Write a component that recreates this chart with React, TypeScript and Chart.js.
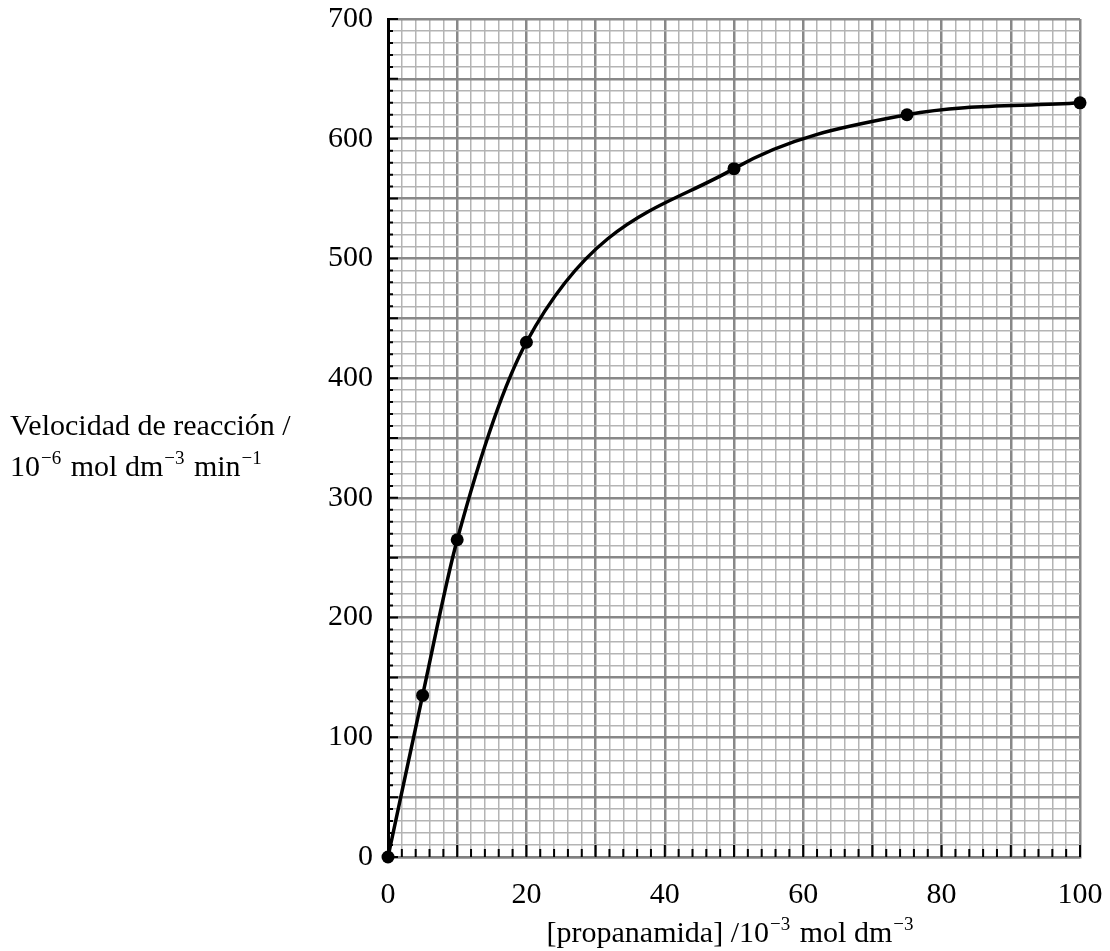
import { useEffect, useRef } from 'react';
import { Chart, registerables } from 'chart.js';

Chart.register(...registerables);

// Data
const concentration = [0, 5, 10, 20, 50, 75, 100];
const rate = [0, 135, 265, 430, 575, 620, 630];
const xTickLabels = [0, 20, 40, 60, 80, 100];
const yTickLabels = [0, 100, 200, 300, 400, 500, 600, 700];

type Part = { t: string; sup?: boolean };
const yTitleLine1: Part[] = [{ t: 'Velocidad de reacción /' }];
const yTitleLine2: Part[] = [
  { t: '10' }, { t: '−6', sup: true }, { t: ' mol dm' }, { t: '−3', sup: true }, { t: ' min' }, { t: '−1', sup: true },
];
const xTitle: Part[] = [
  { t: '[propanamida] /10' }, { t: '−3', sup: true }, { t: ' mol dm' }, { t: '−3', sup: true },
];

const FAMILY = '"Liberation Serif", "Times New Roman", serif';
const SIZE = 30;
const SUP = 19;

function measure(ctx: CanvasRenderingContext2D, parts: Part[]) {
  let w = 0;
  for (const p of parts) {
    ctx.font = `${p.sup ? SUP : SIZE}px ${FAMILY}`;
    w += ctx.measureText(p.t).width + (p.sup ? 3 : 0);
  }
  return w;
}

function drawRich(ctx: CanvasRenderingContext2D, parts: Part[], x: number, baseline: number, align: 'left' | 'center') {
  let cx = align === 'center' ? x - measure(ctx, parts) / 2 : x;
  ctx.textAlign = 'left';
  ctx.textBaseline = 'alphabetic';
  ctx.fillStyle = '#000';
  for (const p of parts) {
    ctx.font = `${p.sup ? SUP : SIZE}px ${FAMILY}`;
    if (p.sup) {
      ctx.fillText(p.t, cx + 1, baseline - 12);
      cx += ctx.measureText(p.t).width + 3;
    } else {
      ctx.fillText(p.t, cx, baseline);
      cx += ctx.measureText(p.t).width;
    }
  }
}

const zeroPad = (s: any) => {
  s.paddingTop = 0;
  s.paddingBottom = 0;
  s.paddingLeft = 0;
  s.paddingRight = 0;
};

const decorPlugin = {
  id: 'decor',
  beforeDatasetsDraw(chart: any) {
    const ctx: CanvasRenderingContext2D = chart.ctx;
    const xs = chart.scales.x;
    const ys = chart.scales.y;
    const { left, bottom } = chart.chartArea;
    ctx.save();
    ctx.strokeStyle = '#000';
    ctx.lineWidth = 2;
    ctx.beginPath();
    for (const t of ys.ticks) {
      const py = ys.getPixelForValue(t.value);
      const len = t.value % 50 === 0 ? 10 : 5;
      ctx.moveTo(left, py);
      ctx.lineTo(left + len, py);
    }
    for (const t of xs.ticks) {
      const px = xs.getPixelForValue(t.value);
      const len = t.value % 10 === 0 ? 12 : 8;
      ctx.moveTo(px, bottom);
      ctx.lineTo(px, bottom - len);
    }
    ctx.stroke();
    ctx.restore();
  },
  afterDraw(chart: any) {
    const ctx: CanvasRenderingContext2D = chart.ctx;
    ctx.save();
    drawRich(ctx, yTitleLine1, 10, 435, 'left');
    drawRich(ctx, yTitleLine2, 10, 476, 'left');
    drawRich(ctx, xTitle, 731, 942, 'center');
    ctx.restore();
  },
};

export default function App() {
  const ref = useRef<HTMLCanvasElement>(null);

  useEffect(() => {
    if (!ref.current) return;
    const chart = new Chart(ref.current, {
      type: 'line',
      data: {
        datasets: [
          {
            data: concentration.map((c, i) => ({ x: c, y: rate[i] })),
            borderColor: '#000',
            backgroundColor: '#000',
            borderWidth: 3.5,
            pointRadius: 6.5,
            pointBackgroundColor: '#000',
            pointBorderWidth: 0,
            cubicInterpolationMode: 'monotone',
            clip: false as any,
          },
        ],
      },
      options: {
        animation: false,
        responsive: false,
        devicePixelRatio: 1,
        layout: { padding: { left: 0, top: 19, right: 30, bottom: 0 } },
        plugins: { legend: { display: false }, tooltip: { enabled: false } },
        scales: {
          x: {
            type: 'linear',
            min: 0,
            max: 100,
            afterFit: (s: any) => { s.height = 94; zeroPad(s); },
            ticks: {
              stepSize: 2,
              autoSkip: false,
              maxRotation: 0,
              padding: 20,
              color: '#000',
              font: { family: FAMILY, size: SIZE },
              callback: (v: any) => (xTickLabels.includes(Number(v)) ? String(v) : ''),
            },
            grid: {
              drawTicks: false,
              tickLength: 0,
              color: (c: any) => (c.tick && c.tick.value % 10 === 0 ? '#888888' : '#b4b4b4'),
              lineWidth: (c: any) => (c.tick && c.tick.value % 10 === 0 ? 2.5 : 1.5),
            },
            border: { display: true, color: '#808080', width: 2.5 },
          },
          y: {
            type: 'linear',
            min: 0,
            max: 700,
            afterFit: (s: any) => { s.width = 388; zeroPad(s); },
            ticks: {
              stepSize: 10,
              autoSkip: false,
              padding: 15,
              color: '#000',
              font: { family: FAMILY, size: SIZE },
              callback: (v: any) => (yTickLabels.includes(Number(v)) ? String(v) : ''),
            },
            grid: {
              drawTicks: false,
              tickLength: 0,
              color: (c: any) => (c.tick && c.tick.value % 50 === 0 ? '#888888' : '#b4b4b4'),
              lineWidth: (c: any) => (c.tick && c.tick.value % 50 === 0 ? 2.5 : 1.5),
            },
            border: { display: true, color: '#000', width: 3 },
          },
        },
      },
      plugins: [decorPlugin],
    });
    return () => chart.destroy();
  }, []);

  return (
    <div style={{ position: 'absolute', left: 0, top: 0, width: 1110, height: 951, background: '#fff' }}>
      <canvas ref={ref} width={1110} height={951} style={{ display: 'block', width: 1110, height: 951 }} />
    </div>
  );
}
